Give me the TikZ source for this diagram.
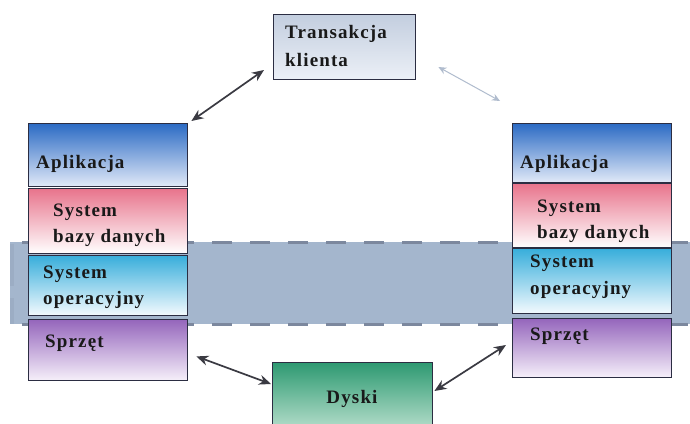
\documentclass[tikz,border=0pt]{standalone}
\usepackage{fontspec}
\setmainfont{Liberation Serif}
\newfontfamily\labelfont[LetterSpace=6]{Liberation Serif}
\usetikzlibrary{arrows.meta}

\definecolor{edge}{HTML}{2B2D42}
\definecolor{bandfill}{HTML}{A4B6CD}
\definecolor{banddash}{HTML}{7C889E}
\definecolor{appTop}{HTML}{2C6BC4}
\definecolor{appBot}{HTML}{E2EAF8}
\definecolor{dbTop}{HTML}{E8748C}
\definecolor{dbBot}{HTML}{FFFFFF}
\definecolor{osTop}{HTML}{38AEDB}
\definecolor{osBot}{HTML}{F4FAFE}
\definecolor{hwTop}{HTML}{9566BC}
\definecolor{hwBot}{HTML}{F6F0FA}
\definecolor{txTop}{HTML}{C3CEDF}
\definecolor{txBot}{HTML}{ECF0F7}
\definecolor{dskTop}{HTML}{2E9A72}
\definecolor{dskBot}{HTML}{C6E6D6}
\definecolor{linkgray}{HTML}{3A3A42}
\definecolor{faint}{HTML}{B0BCCE}

\begin{document}
\begin{tikzpicture}[x=1pt,y=-1pt,
  layer/.style={draw=edge, line width=1.4pt, anchor=north west, inner sep=0pt,
                minimum width=159pt},
  lbl/.style={anchor=base west, inner sep=0pt,
              font=\labelfont\fontsize{19}{24}\selectfont\bfseries, text=black!90},
  link/.style={draw=linkgray, line width=1.7pt,
               {Stealth[length=12pt,width=10pt]}-{Stealth[length=12pt,width=10pt]}},
  faintlink/.style={draw=faint, line width=1pt,
               {Stealth[length=8pt,width=7pt]}-{Stealth[length=8pt,width=7pt]}}]

  % canvas
  \useasboundingbox (0,0) rectangle (690,423);
  \clip (0,0) rectangle (690,423);
  \fill[white] (0,0) rectangle (690,423);

  % shared band behind both stacks
  \fill[bandfill] (10,242) rectangle (700,324);
  \draw[banddash, line width=3pt, dash pattern=on 20pt off 18pt]
    (22,242) -- (700,242);
  \draw[banddash, line width=3pt, dash pattern=on 20pt off 18pt]
    (22,324) -- (700,324);
  \draw[bandfill!80!banddash, line width=4pt, dash pattern=on 42pt off 12pt]
    (12,244) -- (12,324);

  % client transaction
  \node[draw=edge, line width=1.4pt, anchor=north west, inner sep=0pt,
        minimum width=142pt, minimum height=65pt,
        top color=txTop, bottom color=txBot] (trans) at (273,14) {};
  \node[lbl] (trans-t1) at (285,38) {Transakcja};
  \node[lbl] (trans-t2) at (285,66) {klienta};

  % left stack
  \node[layer, minimum height=63pt, top color=appTop, bottom color=appBot] (lapp) at (28,123) {};
  \node[layer, minimum height=65pt, top color=dbTop, bottom color=dbBot] (ldb) at (28,188) {};
  \node[layer, minimum height=60pt, top color=osTop, bottom color=osBot] (los) at (28,255) {};
  \node[layer, minimum height=61pt, top color=hwTop, bottom color=hwBot] (lhw) at (28,319) {};
  \node[lbl] (lapp-t) at (36,168) {Aplikacja};
  \node[lbl] (ldb-t1) at (53,216) {System};
  \node[lbl] (ldb-t2) at (53,242) {bazy danych};
  \node[lbl] (los-t1) at (43,278) {System};
  \node[lbl] (los-t2) at (43,304) {operacyjny};
  \node[lbl] (lhw-t) at (45,347) {Sprzęt};

  % right stack
  \node[layer, minimum height=59pt, top color=appTop, bottom color=appBot] (rapp) at (512,123) {};
  \node[layer, minimum height=64pt, top color=dbTop, bottom color=dbBot] (rdb) at (512,183) {};
  \node[layer, minimum height=65pt, top color=osTop, bottom color=osBot] (ros) at (512,248) {};
  \node[layer, minimum height=59pt, top color=hwTop, bottom color=hwBot] (rhw) at (512,318) {};
  \node[lbl] (rapp-t) at (520,168) {Aplikacja};
  \node[lbl] (rdb-t1) at (537,212) {System};
  \node[lbl] (rdb-t2) at (537,238) {bazy danych};
  \node[lbl] (ros-t1) at (530,267) {System};
  \node[lbl] (ros-t2) at (530,294) {operacyjny};
  \node[lbl] (rhw-t) at (530,340) {Sprzęt};

  % disks
  \node[draw=edge, line width=1.4pt, anchor=north west, inner sep=0pt,
        minimum width=160pt, minimum height=75pt,
        top color=dskTop, bottom color=dskBot] (disk) at (272,362) {};
  \node[lbl, anchor=base] (disk-t) at (352,403) {Dyski};

  % connectors
  \draw[link] ([shift={(3,-2)}]lapp.north east) -- ([shift={(-9,56)}]trans.north west);
  \draw[faintlink] ([shift={(22,53)}]trans.north east) -- ([shift={(-12,-22)}]rapp.north west);
  \draw[link] ([shift={(8,-25)}]lhw.south east) -- ([shift={(-1,22)}]disk.north west);
  \draw[link] ([shift={(1,29)}]disk.north east) -- ([shift={(-6,27)}]rhw.north west);
\end{tikzpicture}
\end{document}
